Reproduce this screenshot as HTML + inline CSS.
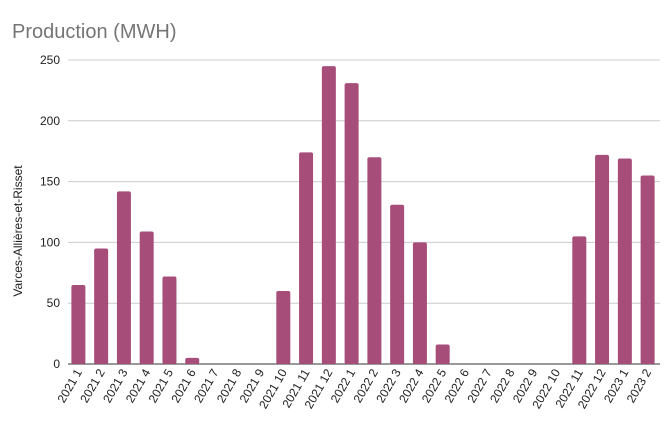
<!DOCTYPE html>
<html><head><meta charset="utf-8"><style>
body{margin:0;background:#fff;font-family:"Liberation Sans",sans-serif}
svg{display:block}
</style></head><body>
<svg width="670" height="430" id="chart">
<text x="12" y="38" font-size="20" fill="#757575">Production (MWH)</text>
<text transform="translate(22,231) rotate(-90)" text-anchor="middle" font-size="12" fill="#222">Varces-Allières-et-Risset</text>
<g id="grid"></g><g id="bars"></g><g id="xl"></g>
</svg>
<script>
const categories=["2021 1","2021 2","2021 3","2021 4","2021 5","2021 6","2021 7","2021 8","2021 9","2021 10","2021 11","2021 12","2022 1","2022 2","2022 3","2022 4","2022 5","2022 6","2022 7","2022 8","2022 9","2022 10","2022 11","2022 12","2023 1","2023 2"];
const values=[65,95,142,109,72,5,0,0,0,60,174,245,231,170,131,100,16,0,0,0,0,0,105,172,169,155];
const yTicks=[0,50,100,150,200,250];
const NS="http://www.w3.org/2000/svg";
const left=68,right=660,y0=364,yTop=60,yMax=250;
const y=v=>y0-(v/yMax)*(y0-yTop);
const step=(right-left)/categories.length;
const x=i=>left+step*(i+0.5)-1;
function mk(t,a,p){const e=document.createElementNS(NS,t);for(const k in a)e.setAttribute(k,a[k]);p.appendChild(e);return e;}
const g=document.getElementById('grid');
yTicks.forEach(t=>{
 const l=mk('line',{x1:left,x2:right,y1:y(t),y2:y(t),stroke:t===0?'#333':'#ccc','stroke-width':1},g);
 
 
 const tx=mk('text',{x:left-8,y:y(t)+4,'text-anchor':'end','font-size':12,fill:'#222'},g);
 tx.textContent=t;
 
 
});
const b=document.getElementById('bars'),xl=document.getElementById('xl');
values.forEach((v,i)=>{
 const h=y0-y(v);
 if(h>0){const r=mk('rect',{x:x(i)-7,y:y(v),width:14,height:h,rx:2,fill:'#a64d79'},b);
 
 }
 const t=mk('text',{transform:`translate(${x(i)+4},${y0+8}) rotate(-60)`,'text-anchor':'end','font-size':12,fill:'#222'},xl);
 t.textContent=categories[i];
 
 
});
</script>
</body></html>
